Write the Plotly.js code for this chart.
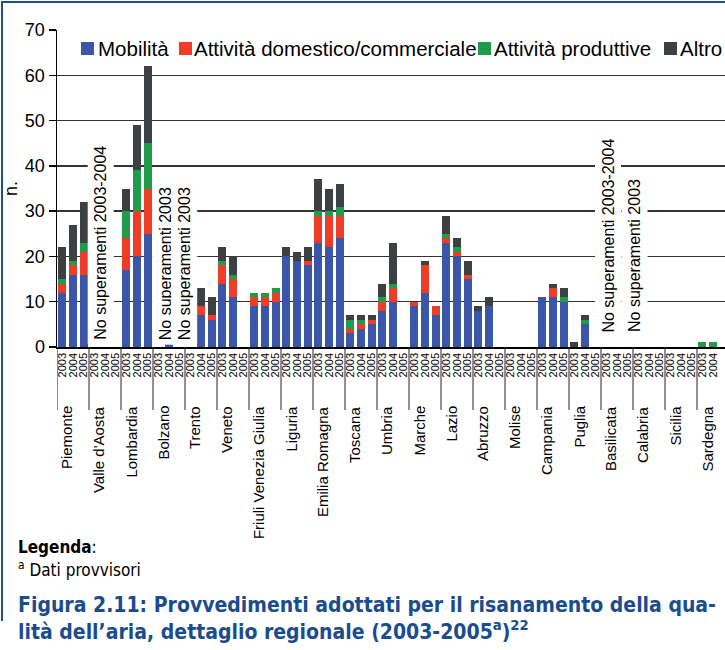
<!DOCTYPE html>
<html>
<head>
<meta charset="utf-8">
<script src="https://cdn.plot.ly/plotly-3.0.1.min.js"></script>
<style>html,body{margin:0;padding:0;background:#fff;}#chart{width:725px;height:650px;}</style>
</head>
<body>
<div id="chart"></div>
<script>
// ---------------- DATA ----------------
const regions = ["Piemonte", "Valle d'Aosta", "Lombardia", "Bolzano", "Trento", "Veneto",
  "Friuli Venezia Giulia", "Liguria", "Emilia Romagna", "Toscana", "Umbria", "Marche",
  "Lazio", "Abruzzo", "Molise", "Campania", "Puglia", "Basilicata", "Calabria", "Sicilia", "Sardegna"];
const years = ["2003", "2004", "2005"];
const seriesNames = ["Mobilità", "Attività domestico/commerciale", "Attività produttive", "Altro"];

// values per region, 2003 / 2004 / 2005
const mobilita = [12,16,16, 0,0,0, 17,20,25, 0,1,0, 0,7,6, 14,11,0, 9,9,10, 20,19,18, 23,22,24,
  3,4,5, 8,10,0, 9,12,7, 23,20,15, 8,9,0, 0,0,0, 11,11,10, 0,5,0, 0,0,0, 0,0,0, 0,0,0, 0,0,0];
const domestico = [2,2,5, 0,0,0, 7,10,10, 0,0,0, 0,2,1, 4,4,0, 2,2,2, 0,0,1, 6,7,5,
  1,1,1, 2,3,0, 1,6,2, 1,1,1, 0,0,0, 0,0,0, 0,2,0, 0,0,0, 0,0,0, 0,0,0, 0,0,0, 0,0,0];
const produttive = [1,1,2, 0,0,0, 6,9,10, 0,0,0, 0,0,0, 1,1,0, 1,1,1, 0,0,0, 1,1,2,
  2,1,0, 1,1,0, 0,0,0, 1,1,0, 0,0,0, 0,0,0, 0,0,1, 0,1,0, 0,0,0, 0,0,0, 0,0,0, 1,1,0];
const altro = [7,8,9, 0,0,0, 5,10,17, 0,0,0, 0,4,4, 3,4,0, 0,0,0, 2,2,3, 7,5,5,
  1,1,1, 3,9,0, 0,1,0, 4,2,3, 1,2,0, 0,0,0, 0,1,2, 1,1,0, 0,0,0, 0,0,0, 0,0,0, 0,0,0];

const notes = ["No superamenti 2003-2004", "No superamenti 2003", "No superamenti 2003",
  "No superamenti 2003-2004", "No superamenti 2003"];

const yTicks = [0, 10, 20, 30, 40, 50, 60, 70];
const yTitle = "n.";
const legendTitle = "Legenda";
const legendNote = "Dati provvisori";
const captionLine1 = "Figura 2.11: Provvedimenti adottati per il risanamento della qua-";
const captionLine2 = "lità dell’aria, dettaglio regionale (2003-2005<sup>a</sup>)<sup>22</sup>";

// ---------------- STYLE / LAYOUT ----------------
const colors = ["#3b56a6", "#ee3c28", "#1f9b4b", "#3d4043"];
const W = 725, H = 650;
const L = 57, T = 30, B = 347, R = 725;      // plot area in px
const pw = R - L, ph = B - T;
const px2x = X => (X - L) / pw;               // paper x
const px2y = Y => (B - Y) / ph;               // paper y
const FONT = "'Liberation Sans', Arial, Helvetica, sans-serif";
const NARROW = "'Liberation Sans Narrow', 'Arial Narrow', 'DejaVu Sans Condensed', 'Liberation Sans', sans-serif";

const nSlots = regions.length * years.length;
const xIdx = [], tickText = [];
regions.forEach((r, i) => years.forEach((y, j) => { xIdx.push(i * years.length + j); tickText.push(y); }));
const xRange = [-0.5, -0.5 + pw / (672 / nSlots)];

const allSeries = [mobilita, domestico, produttive, altro];
const traces = allSeries.map((vals, k) => ({
  type: "bar", name: seriesNames[k], x: xIdx, y: vals,
  marker: { color: colors[k], line: { width: 0 } },
  hoverinfo: "skip", showlegend: false
}));

const shapes = [];
const annotations = [];

// group dividers below axis
for (let g = 0; g <= regions.length; g++) {
  shapes.push({ type: "line", xref: "x", yref: "paper", x0: g * 3 - 0.5, x1: g * 3 - 0.5,
    y0: 0, y1: px2y(410), line: { color: "#222", width: 1 } });
}
// region labels
regions.forEach((r, i) => {
  annotations.push({ xref: "x", yref: "paper", x: i * 3 + 1 - 0.6, y: px2y(404),
    text: r, textangle: -90, showarrow: false, xanchor: "center", yanchor: "top",
    font: { family: FONT, size: 15, color: "#000" } });
});
// notes inside plot
const notePos = [[3.62, 0.5], [9.62, 0.5], [11.4, 0.5], [51.16, 2.1], [53.69, 2.1]];
notes.forEach((t, i) => {
  annotations.push({ xref: "x", yref: "y", x: notePos[i][0], y: notePos[i][1], text: t,
    textangle: -90, showarrow: false, xanchor: "center", yanchor: "bottom",
    bgcolor: "#fff", borderpad: 4, font: { family: FONT, size: 16, color: "#000" } });
});
// custom legend
const legSq = [81, 179, 478, 664];
const legTx = [97, 193, 493, 679];
seriesNames.forEach((n, k) => {
  shapes.push({ type: "rect", xref: "paper", yref: "paper", x0: px2x(legSq[k]), x1: px2x(legSq[k] + 13),
    y0: px2y(55), y1: px2y(42), fillcolor: colors[k], line: { width: 0 } });
  annotations.push({ xref: "paper", yref: "paper", x: px2x(legTx[k]), y: px2y(48.5), text: n,
    showarrow: false, xanchor: "left", yanchor: "middle", borderpad: 0,
    font: { family: FONT, size: 20.5, color: "#000" } });
});
// figure border
shapes.push({ type: "line", xref: "paper", yref: "paper", x0: px2x(2), x1: px2x(2), y0: px2y(1), y1: px2y(621),
  line: { color: "#1f4f8f", width: 2 } });
shapes.push({ type: "line", xref: "paper", yref: "paper", x0: px2x(1), x1: px2x(740), y0: px2y(2), y1: px2y(2),
  line: { color: "#1f4f8f", width: 2 } });
// legenda and caption
annotations.push({ xref: "paper", yref: "paper", x: px2x(17), y: px2y(547), xanchor: "left", yanchor: "middle",
  showarrow: false, borderpad: 0, text: "<b>" + legendTitle + "</b>:", font: { family: NARROW, size: 17, color: "#000" } });
annotations.push({ xref: "paper", yref: "paper", x: px2x(17), y: px2y(569), xanchor: "left", yanchor: "middle",
  showarrow: false, borderpad: 0, text: "<sup>a</sup> " + legendNote, font: { family: NARROW, size: 17, color: "#000" } });
annotations.push({ xref: "paper", yref: "paper", x: px2x(17), y: px2y(605), xanchor: "left", yanchor: "middle",
  showarrow: false, borderpad: 0, text: "<b>" + captionLine1 + "</b>", font: { family: NARROW, size: 21, color: "#1a4c8e" } });
annotations.push({ xref: "paper", yref: "paper", x: px2x(17), y: px2y(630), xanchor: "left", yanchor: "middle",
  showarrow: false, borderpad: 0, text: "<b>" + captionLine2 + "</b>", font: { family: NARROW, size: 21, color: "#1a4c8e" } });

const layout = {
  width: W, height: H,
  margin: { l: L, r: W - R, t: T, b: H - B, pad: 0 },
  paper_bgcolor: "#fff", plot_bgcolor: "#fff",
  barmode: "stack", bargap: 0.25,
  showlegend: false,
  xaxis: {
    range: xRange, tickmode: "array", tickvals: xIdx, ticktext: tickText,
    tickangle: -90, tickfont: { family: FONT, size: 11, color: "#000" },
    ticks: "", showgrid: false, zeroline: false,
    showline: true, linecolor: "#000", linewidth: 1.5, fixedrange: true
  },
  yaxis: {
    range: [0, 70], tickmode: "array", tickvals: yTicks,
    ticks: "outside", ticklen: 7, tickcolor: "#000", tickwidth: 1.3,
    tickfont: { family: FONT, size: 18, color: "#000" },
    showgrid: true, gridcolor: "#333", gridwidth: 1.3,
    zeroline: false, showline: true, linecolor: "#000", linewidth: 1.5,
    title: { text: yTitle, font: { family: FONT, size: 18, color: "#000" }, standoff: 2 },
    fixedrange: true
  },
  shapes: shapes, annotations: annotations
};

Plotly.newPlot("chart", traces, layout, { displayModeBar: false, staticPlot: true });
</script>
</body>
</html>
